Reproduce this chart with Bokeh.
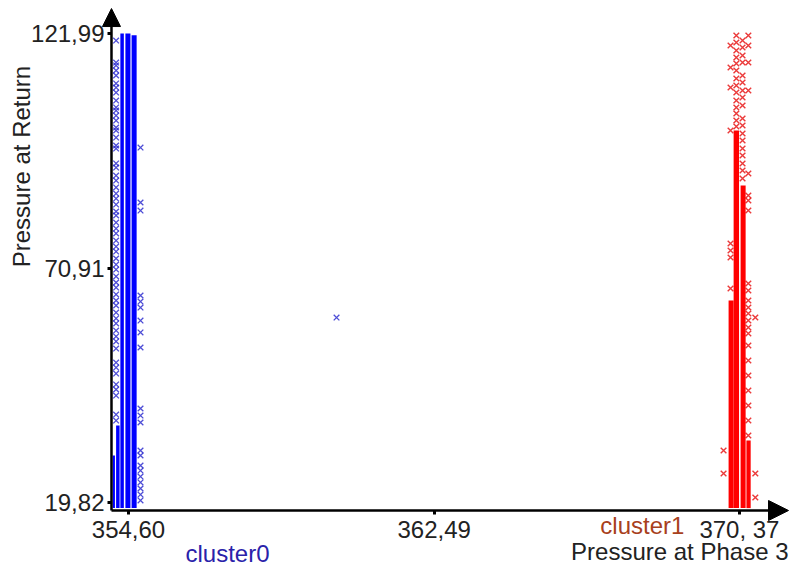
from bokeh.plotting import figure
from bokeh.models import Range1d, FixedTicker, Arrow, NormalHead, Label
from bokeh.embed import file_html
from bokeh.resources import INLINE
import math

# ---------------- data ----------------
x_ticks = [354.60, 362.49, 370.37]
x_tick_labels = ["354,60", "362,49", "370, 37"]
y_ticks = [19.82, 70.91, 121.99]
y_tick_labels = ["19,82", "70,91", "121,99"]

# cluster0 (blue): dense bands of overlapping points (x from, x to, y from, y to)
c0_band_left = [354.39, 354.52, 354.68, 354.19, 354.28]
c0_band_right = [354.48, 354.65, 354.81, 354.25, 354.37]
c0_band_bottom = [18.6, 18.6, 18.6, 18.6, 18.6]
c0_band_top = [121.99, 121.99, 121.6, 30.06, 36.6]

# cluster0 separate points
c0_col_x = 354.28
c0_col_y = [120.47, 115.68, 115.03, 113.94, 112.85, 111.11, 110.23, 109.14, 107.40,
            105.88, 105.22, 104.13, 103.04, 101.52, 100.87, 99.34, 97.60, 96.94,
            93.68, 92.80, 91.06, 89.97, 88.45, 87.14, 86.05, 84.74, 83.22, 82.35,
            80.82, 79.51, 78.43, 76.90, 75.59, 74.50, 72.98, 71.67, 70.58, 69.06,
            67.75, 66.66, 65.14, 63.83, 62.74, 61.21, 59.91, 58.82, 57.29, 55.99,
            54.90, 53.37, 50.32, 49.23, 47.92, 45.53, 44.44, 43.13, 38.99, 37.68]
c0_out_x = 354.91
c0_out_y = [97.16, 85.18, 83.43, 64.92, 63.61, 62.30, 59.47, 56.86, 53.59, 40.30,
            38.77, 37.25, 31.15, 30.06, 27.88, 26.79, 25.48, 24.18, 22.87, 21.56, 20.26]
c0_far_x = [359.97]
c0_far_y = [60.12]

# cluster1 (red): dense bands
c1_band_left = [370.22, 370.40, 370.09, 370.55]
c1_band_right = [370.36, 370.53, 370.22, 370.66]
c1_band_bottom = [18.6, 18.6, 18.6, 18.6]
c1_band_top = [100.87, 88.88, 63.83, 33.33]

# cluster1 separate points
c1_colA_x = 370.29
c1_colA_y = [121.56, 120.04, 118.29, 116.77, 115.46, 113.94, 112.19, 110.67, 109.14,
             107.40, 105.88, 104.57, 103.04, 101.74]
c1_colB_x = 370.45
c1_colB_y = [120.47, 118.95, 117.21, 115.68, 112.85, 111.32, 109.58, 108.06, 106.31,
             103.48, 101.96, 100.21, 98.69, 96.94, 95.42, 93.68, 92.15, 90.41]
c1_left_x = 370.14
c1_left_y = [119.38, 114.59, 110.23, 100.87, 76.25, 74.72, 73.20, 66.44]
c1_right_x = 370.60
c1_right_y = [121.56, 119.38, 115.68, 109.58, 91.50, 86.70, 85.62, 83.44, 67.53, 66.01,
              63.83, 62.30, 61.00, 59.47, 57.95, 56.64, 54.02, 50.76, 47.49, 44.22,
              40.95, 37.68, 34.42]
c1_far_x = [370.78, 370.78, 370.78, 369.96, 369.96]
c1_far_y = [60.12, 26.14, 20.91, 31.15, 26.14]

# ---------------- figure ----------------
X_ORIGIN, Y_ORIGIN = 354.161, 18.077   # where the two axes cross
X_TIP, Y_TIP = 371.637, 127.44         # arrow tips
p = figure(width=801, height=569,
           x_range=Range1d(351.296, 371.972), y_range=Range1d(5.223, 129.19),
           output_backend="svg", toolbar_location=None, min_border=0)
p.outline_line_color = None
p.grid.visible = False
p.background_fill_color = "white"

FONT = "Liberation Sans"
for ax in (p.xaxis[0], p.yaxis[0]):
    ax.axis_line_color = None
    ax.major_tick_line_color = "black"
    ax.major_tick_line_width = 3
    ax.major_tick_in = 0
    ax.major_tick_out = 4
    ax.minor_tick_line_color = None
    ax.major_label_text_font = FONT
    ax.major_label_text_font_size = "24px"
    ax.major_label_text_color = "#222222"

p.xaxis[0].fixed_location = Y_ORIGIN
p.yaxis[0].fixed_location = X_ORIGIN
p.xaxis[0].ticker = FixedTicker(ticks=x_ticks)
p.xaxis[0].major_label_overrides = {t: l for t, l in zip(x_ticks, x_tick_labels)}
p.xaxis[0].major_label_standoff = 1
p.yaxis[0].ticker = FixedTicker(ticks=y_ticks)
p.yaxis[0].major_label_overrides = {t: l for t, l in zip(y_ticks, y_tick_labels)}
p.yaxis[0].major_label_standoff = 3

BLUE = "#0000ff"
RED = "#ff0000"

p.quad(left=c0_band_left, right=c0_band_right, bottom=c0_band_bottom, top=c0_band_top,
       fill_color=BLUE, line_color=None)
p.quad(left=c1_band_left, right=c1_band_right, bottom=c1_band_bottom, top=c1_band_top,
       fill_color=RED, line_color=None)

def pts(xc, ys):
    return [xc] * len(ys), ys

bx, by = [], []
for xc, ys in ((c0_col_x, c0_col_y), (c0_out_x, c0_out_y)):
    xx, yy = pts(xc, ys)
    bx += xx
    by += yy
bx += c0_far_x
by += c0_far_y
p.scatter(bx, by, marker="x", size=8, line_color="#2020cc", line_width=1.3, line_alpha=0.8)

rx, ry = [], []
for xc, ys in ((c1_colA_x, c1_colA_y), (c1_colB_x, c1_colB_y),
               (c1_left_x, c1_left_y), (c1_right_x, c1_right_y)):
    xx, yy = pts(xc, ys)
    rx += xx
    ry += yy
rx += c1_far_x
ry += c1_far_y
p.scatter(rx, ry, marker="x", size=8, line_color="#e81818", line_width=1.4, line_alpha=0.85)

# axis lines with arrow heads
p.add_layout(Arrow(end=NormalHead(size=18, fill_color="black", line_color="black"),
                   x_start=X_ORIGIN, y_start=Y_ORIGIN, x_end=X_ORIGIN, y_end=Y_TIP,
                   line_color="black", line_width=2.5))
p.add_layout(Arrow(end=NormalHead(size=20, fill_color="black", line_color="black"),
                   x_start=X_ORIGIN, y_start=Y_ORIGIN, x_end=X_TIP, y_end=Y_ORIGIN,
                   line_color="black", line_width=2.5))

# texts
p.add_layout(Label(x=356.07, y=8.71, text="cluster0", text_font=FONT, text_font_size="24px",
                   text_color="#2a22aa", text_baseline="middle", text_align="left"))
p.add_layout(Label(x=366.78, y=14.81, text="cluster1", text_font=FONT, text_font_size="24px",
                   text_color="#a8401c", text_baseline="middle", text_align="left"))
p.add_layout(Label(x=X_TIP, y=9.2, text="Pressure at Phase 3", text_font=FONT,
                   text_font_size="24px", text_color="#222222",
                   text_baseline="middle", text_align="right"))
p.add_layout(Label(x=351.84, y=93.02, text="Pressure at Return", text_font=FONT,
                   text_font_size="24px", text_color="#222222", angle=math.pi / 2,
                   text_baseline="middle", text_align="center"))

open("out.html", "w").write(file_html(p, INLINE))
